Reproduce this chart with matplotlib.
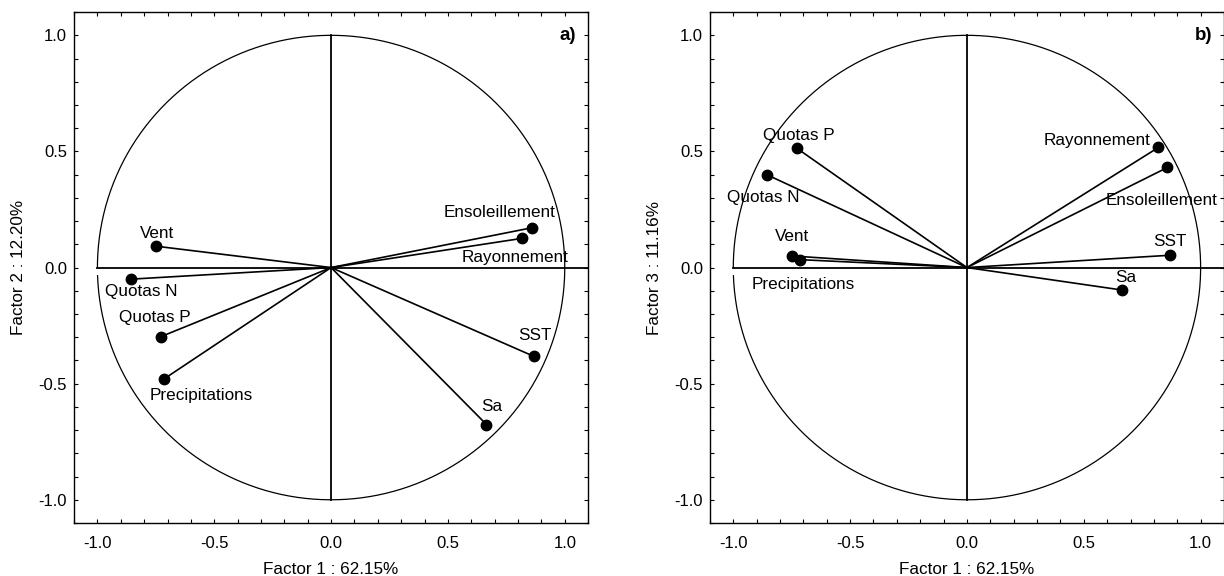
"""Correlation circles (Factor 1 vs Factor 2, Factor 1 vs Factor 3)"""

import matplotlib
matplotlib.use('agg')
import matplotlib.pyplot as plt
import numpy as np
from matplotlib.ticker import MultipleLocator

plt.rcParams['font.family'] = ['Liberation Sans', 'DejaVu Sans']

variables = ["Ensoleillement", "Rayonnement", "SST", "Sa",
             "Vent", "Quotas N", "Quotas P", "Precipitations"]
factor1 = [0.858, 0.819, 0.869, 0.665, -0.750, -0.857, -0.727, -0.714]
factor2 = [0.171, 0.126, -0.383, -0.676, 0.092, -0.050, -0.297, -0.479]
factor3 = [0.431, 0.517, 0.053, -0.097, 0.050, 0.400, 0.513, 0.034]

x_label = "Factor 1 : 62.15%"
y_labels = ["Factor 2 : 12.20%", "Factor 3 : 11.16%"]
panel_tags = ["a)", "b)"]

# label offsets in pixels (dx, dy) from each dot, per panel
offsets_a = {"Ensoleillement": (-32, 15), "Rayonnement": (-7, -19),
             "SST": (1, 21), "Sa": (5, 18), "Vent": (1, 13),
             "Quotas N": (10, -12), "Quotas P": (-6, 19),
             "Precipitations": (37, -17)}
offsets_b = {"Ensoleillement": (-6, -33), "Rayonnement": (-61, 7),
             "SST": (0, 14), "Sa": (3, 13), "Vent": (0, 19),
             "Quotas N": (-3, -23), "Quotas P": (2, 13),
             "Precipitations": (3, -25)}

FS = 12.3


def draw_panel(ax, ys, ylabel, tag, offsets):
    theta = np.radians(np.linspace(-178, 180, 720))
    ax.plot(np.cos(theta), np.sin(theta), color="black", lw=0.9)
    ax.plot([-1, 1.1], [0, 0], color="black", lw=1.3)
    ax.plot([0, 0], [-1, 1], color="black", lw=1.3)
    for name, x, y in zip(variables, factor1, ys):
        ax.plot([0, x], [0, y], color="black", lw=1.2)
        ax.plot(x, y, "o", color="black", markersize=7.5)
        dx, dy = offsets[name]
        ax.annotate(name, (x, y), xytext=(dx * 0.72, dy * 0.72),
                    textcoords="offset points", ha="center", va="center",
                    fontsize=FS)
    ax.text(1.05, 1.0, tag, fontsize=13.5, fontweight="bold",
            ha="right", va="center")
    ax.set_xlim(-1.1, 1.1)
    ax.set_ylim(-1.1, 1.1)
    ax.xaxis.set_major_locator(MultipleLocator(0.5))
    ax.yaxis.set_major_locator(MultipleLocator(0.5))
    ax.xaxis.set_minor_locator(MultipleLocator(0.1))
    ax.yaxis.set_minor_locator(MultipleLocator(0.1))
    ax.xaxis.set_major_formatter(lambda v, p: f"{v:.1f}")
    ax.yaxis.set_major_formatter(lambda v, p: f"{v:.1f}")
    ax.tick_params(which="both", direction="in", top=True, right=True,
                   length=3, width=0.8, labelsize=12)
    ax.tick_params(axis="x", pad=9)
    ax.tick_params(axis="y", pad=5)
    ax.set_xlabel(x_label, fontsize=FS, labelpad=8)
    ax.set_ylabel(ylabel, fontsize=FS, labelpad=9)
    for sp in ax.spines.values():
        sp.set_linewidth(1.0)


def main():
    fig = plt.figure(figsize=(12.24, 5.76), dpi=100)
    ax1 = fig.add_axes([0.0605, 0.092, 0.42, 0.887])
    ax2 = fig.add_axes([0.580, 0.092, 0.42, 0.887])
    draw_panel(ax1, factor2, y_labels[0], panel_tags[0], offsets_a)
    draw_panel(ax2, factor3, y_labels[1], panel_tags[1], offsets_b)
    fig.savefig("out.png", dpi=100)


if __name__ == "__main__":
    main()
